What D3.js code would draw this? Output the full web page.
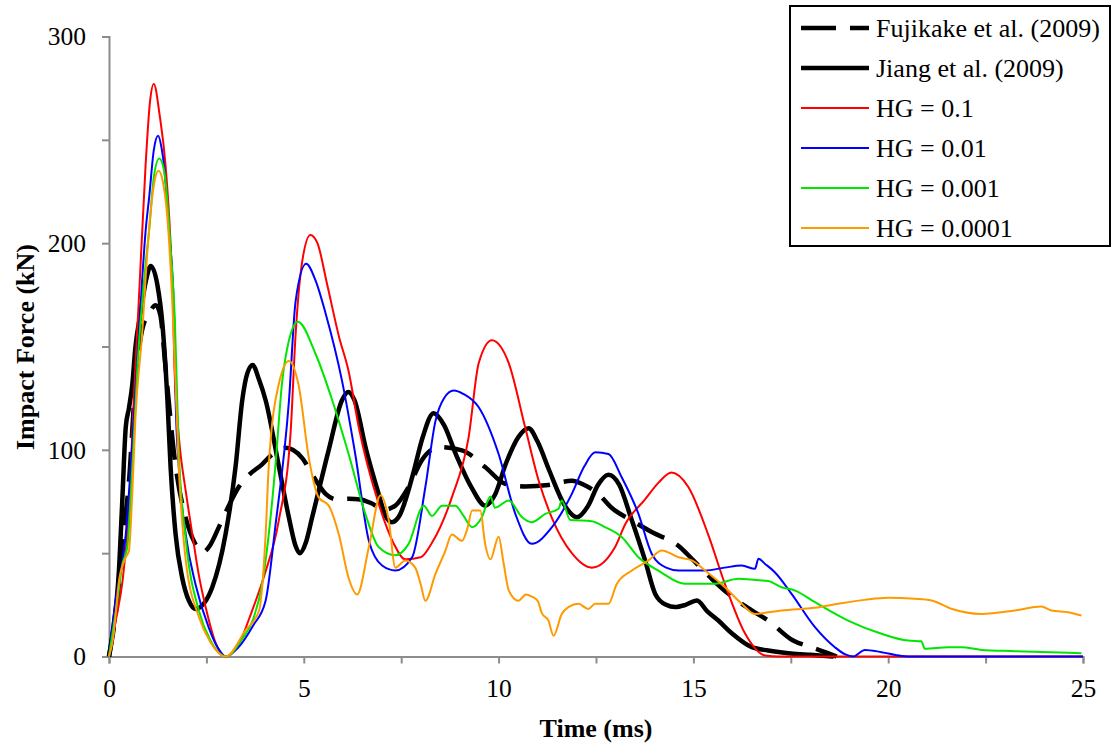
<!DOCTYPE html>
<html>
<head>
<meta charset="utf-8">
<script src="https://cdn.jsdelivr.net/npm/d3@7"></script>
<style>
  html, body { margin: 0; padding: 0; background: #fff; }
  svg { display: block; }
  text { font-family: "Liberation Serif", "Times New Roman", serif; fill: #000; }
</style>
</head>
<body>
<svg id="chart" width="1115" height="745"></svg>
<script>
// ---- Data (time in ms, force in kN) ----
const fujikake = [[0,0],[0.2,25],[0.38,61],[0.51,84],[0.68,133],[0.85,158],[1.03,166],[1.2,170],[1.32,165],[1.45,140],[1.71,92],[1.97,67],[2.2,55],[2.41,50.5],[2.6,54],[2.82,62.6],[3.05,72],[3.33,82],[3.6,88],[3.93,93],[4.2,98],[4.53,101],[4.96,96],[5.25,87],[5.56,78.7],[5.85,76],[6.15,76.3],[6.45,76],[6.75,74],[7.05,71],[7.35,73],[7.69,82],[8.03,95],[8.46,101.3],[9.06,99.7],[9.66,91.6],[10.17,83.6],[10.68,82.3],[11.28,83],[11.88,85],[12.2,83],[12.56,78.7],[12.9,72],[13.42,65.8],[13.93,60.2],[14.66,52.9],[14.96,47.3],[15.47,37.6],[15.9,30.3],[16.5,22.3],[16.92,17.4],[17.56,7.7],[18.03,4.5],[18.4,2],[18.68,0]];
const jiang = [[0,0],[0.09,11],[0.26,43],[0.34,75],[0.43,111],[0.51,120],[0.6,132],[0.68,150],[0.8,165],[0.95,182],[1.07,189],[1.24,180],[1.37,161],[1.5,124],[1.58,92],[1.71,59],[1.88,38],[2.05,27],[2.22,23],[2.45,26],[2.65,33.5],[2.99,59],[3.25,92],[3.42,124],[3.55,137],[3.69,141],[3.85,134],[4.02,124],[4.36,92],[4.62,67],[4.78,54],[4.9,50],[5.05,55],[5.21,67],[5.64,100],[5.98,124],[6.14,128],[6.3,124],[6.6,100],[6.9,80],[7.1,68],[7.26,65],[7.45,68],[7.8,88],[8.05,106],[8.33,117.7],[8.6,112],[8.9,98],[9.3,82],[9.66,73],[9.9,78],[10.2,94],[10.5,106],[10.77,110.5],[11.0,104],[11.3,90],[11.7,73],[12.01,67.4],[12.3,73],[12.55,83],[12.82,88],[13.1,83],[13.4,67],[13.76,46.5],[14.02,30.3],[14.3,25],[14.53,23.9],[14.8,25],[15.09,27.1],[15.35,22],[15.64,17.4],[16.0,11],[16.5,4.5],[16.92,2.9],[17.5,1.5],[18.0,0.8],[18.6,0]];
const hg01 = [[0,0],[0.2,20],[0.35,37],[0.5,68],[0.65,130],[0.77,174],[0.94,238],[1.05,268],[1.15,277],[1.3,262],[1.45,238],[1.58,200],[1.64,172],[1.68,140],[1.74,119],[1.82,101],[1.97,80],[2.14,59],[2.3,40],[2.48,24],[2.75,6],[3.0,0],[3.3,5],[3.67,22],[4.0,40],[4.36,66],[4.66,108],[4.79,156],[4.95,190],[5.17,204],[5.35,200],[5.6,180],[5.9,155],[6.15,138],[6.41,111],[6.92,74],[7.3,55],[7.61,47],[8.0,48],[8.29,55],[8.8,77],[9.23,106],[9.49,142],[9.83,153],[10.05,150],[10.26,142],[10.68,111],[11.03,85],[11.37,67],[11.88,50],[12.39,43],[12.99,53],[13.25,64],[13.76,76],[14.1,84],[14.44,89],[14.87,82],[15.38,59],[15.81,35],[16.33,11],[16.84,0.5],[17.2,0],[25,0]];
const hg001 = [[0,0],[0.17,27],[0.43,59],[0.6,104],[0.75,150],[0.85,182],[0.94,206],[1.03,222],[1.15,245],[1.26,252],[1.35,246],[1.41,238],[1.54,206],[1.67,166],[1.71,124],[1.79,92],[1.97,59],[2.22,35],[2.56,14],[2.8,4],[3.0,0],[3.3,4],[3.7,15],[4.02,27],[4.27,63],[4.62,124],[4.79,172],[5.06,190],[5.3,182],[5.56,166],[5.98,133.5],[6.32,98],[6.67,56],[7.01,44],[7.35,41.6],[7.78,48],[8.12,82],[8.38,114],[8.6,125],[8.85,128.7],[9.1,127],[9.49,120.6],[10,98],[10.43,69],[10.85,54.5],[11.37,62.6],[11.88,78.7],[12.2,92],[12.48,98.8],[12.82,98],[13.16,86.7],[13.59,69],[13.93,49.7],[14.3,43],[14.62,41.6],[15.3,41.6],[15.8,43],[16.24,44],[16.58,42.4],[16.67,47.3],[16.84,44.8],[17.09,40.8],[17.52,30.3],[18.12,14.2],[18.63,4.5],[18.9,1],[19.1,0],[19.4,3.2],[19.83,2.1],[20.34,0.3],[20.7,0],[25,0]];
const hg0001 = [[0,0],[0.2,25],[0.35,45],[0.47,53],[0.6,92],[0.73,140],[0.94,190],[1.03,206],[1.15,232],[1.29,241],[1.38,238],[1.45,230],[1.58,198],[1.69,163],[1.79,100],[1.97,57],[2.31,22],[2.6,8],[3.0,0],[3.4,8],[3.7,18],[3.93,35],[4.1,59],[4.27,92],[4.44,132],[4.62,153],[4.85,162],[5.3,146.5],[5.73,124],[6.15,98],[6.58,69],[6.92,53],[7.35,49],[7.69,54.5],[8.08,73],[8.29,68],[8.55,73],[8.89,73],[9.1,68],[9.32,62.6],[9.57,67.4],[9.79,77.4],[9.91,72],[10.26,75.5],[10.6,67.4],[10.85,65],[11.2,69],[11.54,71.5],[11.62,75.5],[11.84,66],[12.39,65.5],[12.73,62.6],[13.16,57.8],[13.59,48],[14.1,41.6],[14.79,35.2],[15.56,35.2],[16.15,37.6],[16.6,37],[16.92,36.5],[17.26,33.5],[17.61,31.9],[18.12,26.3],[18.97,17.4],[19.83,11],[20.51,7.7],[20.85,7.4],[20.94,3.7],[21.54,4.5],[21.88,4.5],[22.39,3.2],[23.25,2.6],[24.96,1.6]];
const hg00001 = [[0,0],[0.1,8],[0.26,37],[0.43,48],[0.51,51],[0.6,80],[0.68,116],[0.85,156],[1.0,200],[1.15,228],[1.27,235],[1.4,228],[1.5,212],[1.62,174],[1.79,92],[1.97,46.5],[2.31,19],[2.6,7],[3.0,0],[3.5,12.6],[3.85,22],[4.02,59],[4.1,92],[4.36,132],[4.62,143],[4.87,131],[5.13,96],[5.38,77],[5.64,73],[5.9,59],[6.15,38],[6.37,30],[6.67,53],[6.97,78],[7.18,66],[7.35,43],[7.61,46.5],[7.86,43],[8.0,35],[8.12,27],[8.38,40],[8.63,51],[8.8,59],[9.06,56],[9.2,62],[9.32,70.6],[9.53,70.6],[9.65,55],[9.79,47],[10.0,58],[10.13,45],[10.26,32],[10.51,27],[10.7,30],[10.85,29],[11.0,27],[11.11,21],[11.28,17.4],[11.41,10],[11.62,20.6],[11.8,24],[12.05,25.5],[12.3,23],[12.48,25.5],[12.82,25.5],[13.03,35],[13.42,41.6],[13.85,46.5],[14.19,51.3],[14.62,48],[14.96,46.5],[15.3,41.6],[15.81,33.5],[16.24,25.5],[16.58,20.6],[16.92,21.4],[17.26,22.3],[18.12,23.6],[18.8,25.8],[19.4,27.4],[20,28.4],[20.68,27.9],[21.11,27.1],[21.62,23.1],[22.39,20.6],[23.25,22.3],[23.93,24.2],[24.19,22.3],[24.62,21.4],[24.96,19.8]];

const xTicks = [0, 2.5, 5, 7.5, 10, 12.5, 15, 17.5, 20, 22.5, 25];
const xLabels = [0, 5, 10, 15, 20, 25];
const yTicks = [0, 50, 100, 150, 200, 250, 300];
const yLabels = [0, 100, 200, 300];

const seriesNames = ["Fujikake et al. (2009)", "Jiang et al. (2009)", "HG = 0.1", "HG = 0.01", "HG = 0.001", "HG = 0.0001"];
const seriesData = [fujikake, jiang, hg01, hg001, hg0001, hg00001];
const seriesColors = ["#000000", "#000000", "#ff0000", "#0000ff", "#00e600", "#ff9900"];
const seriesWidths = [4.5, 4.5, 2, 2, 2, 2];
const seriesDash = ["30,14", null, null, null, null, null];

// ---- Chart ----
const svg = d3.select("#chart");
const x = d3.scaleLinear().domain([0, 25]).range([109, 1083]);
const y = d3.scaleLinear().domain([0, 300]).range([656.5, 36.5]);
const axisColor = "#8c8c8c";

// x axis
const xAxis = d3.axisBottom(x).tickValues(xTicks).tickSize(7).tickFormat(d => xLabels.includes(d) ? d : "");
const gx = svg.append("g").attr("transform", `translate(0,${y(0)})`).call(xAxis);
gx.select(".domain").attr("stroke", axisColor).attr("stroke-width", 2);
gx.selectAll(".tick line").attr("stroke", axisColor).attr("stroke-width", 2);
gx.selectAll(".tick text").attr("font-size", 25.5).attr("font-family", "Liberation Serif").attr("fill", "#000").attr("dy", "0.71em").attr("y", 22);

// y axis
const yAxis = d3.axisLeft(y).tickValues(yTicks).tickSize(7).tickFormat(d => yLabels.includes(d) ? d : "");
const gy = svg.append("g").attr("transform", `translate(${x(0)},0)`).call(yAxis);
gy.select(".domain").attr("stroke", axisColor).attr("stroke-width", 2);
gy.selectAll(".tick line").attr("stroke", axisColor).attr("stroke-width", 2);
gy.selectAll(".tick text").attr("font-size", 25.5).attr("font-family", "Liberation Serif").attr("fill", "#000").attr("x", -23);

// axis titles
svg.append("text").attr("x", 596).attr("y", 737).attr("text-anchor", "middle")
  .attr("font-size", 26).attr("font-weight", "bold").text("Time (ms)");
svg.append("text").attr("transform", "translate(34,347) rotate(-90)").attr("text-anchor", "middle")
  .attr("font-size", 26).attr("font-weight", "bold").text("Impact Force (kN)");

// lines
const line = d3.line().x(d => x(d[0])).y(d => y(d[1])).curve(d3.curveMonotoneX);
const drawOrder = [1, 0, 2, 3, 4, 5];
drawOrder.forEach(i => {
  const p = svg.append("path").datum(seriesData[i]).attr("d", line)
    .attr("fill", "none").attr("stroke", seriesColors[i]).attr("stroke-width", seriesWidths[i])
    .attr("stroke-linejoin", "round");
  if (seriesDash[i]) p.attr("stroke-dasharray", seriesDash[i]);
});

// legend
const lg = svg.append("g");
lg.append("rect").attr("x", 790).attr("y", 6).attr("width", 320).attr("height", 240)
  .attr("fill", "#fff").attr("stroke", "#000").attr("stroke-width", 2);
seriesNames.forEach((name, i) => {
  const cy = 28 + i * 40;
  const ln = lg.append("line").attr("x1", 801).attr("x2", 869).attr("y1", cy).attr("y2", cy)
    .attr("stroke", seriesColors[i]).attr("stroke-width", seriesWidths[i]);
  if (seriesDash[i]) ln.attr("stroke-dasharray", "35,14");
  lg.append("text").attr("x", 876).attr("y", cy).attr("dy", "0.35em").attr("font-size", 26).text(name);
});
</script>
</body>
</html>
